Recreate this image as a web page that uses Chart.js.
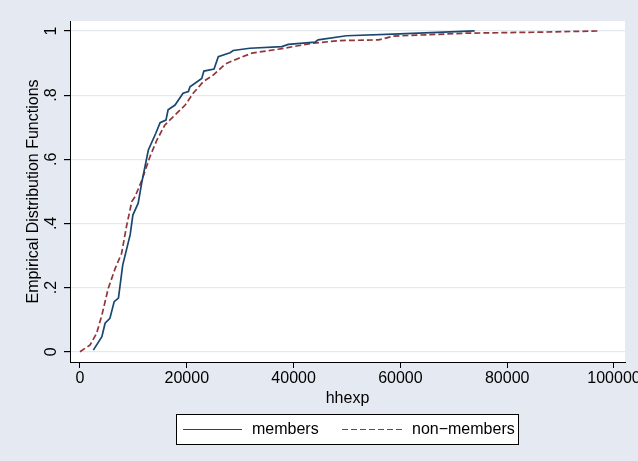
<!DOCTYPE html>
<html>
<head>
<meta charset="utf-8">
<script src="https://cdn.jsdelivr.net/npm/chart.js@4.4.1/dist/chart.umd.min.js"></script>
<style>
  html, body { margin: 0; padding: 0; background: #e5eaf2; }
  #wrap { width: 638px; height: 461px; }
</style>
</head>
<body>
<div id="wrap"><canvas id="ecdf" width="638" height="461"></canvas></div>
<script>
// values
var seriesNames = ["members", "non\u2212members"];

var membersX = [2500, 4100, 4700, 5600, 6400, 7200, 8000, 9400, 9900, 10900, 11600, 12800, 14200, 15000, 16100, 16500,
  17800, 19300, 20300, 20600, 22800, 23200, 25100, 25900, 28100, 28700, 31800, 37800, 39000, 44000, 44600, 49900, 59900, 73900];
var membersY = [0.005, 0.047, 0.089, 0.104, 0.156, 0.167, 0.27, 0.365, 0.426, 0.463, 0.53, 0.629, 0.681, 0.714, 0.722, 0.754,
  0.769, 0.806, 0.811, 0.826, 0.852, 0.875, 0.881, 0.92, 0.932, 0.939, 0.946, 0.951, 0.958, 0.965, 0.972, 0.985, 0.991, 1.0];

var nonMembersX = [0, 1900, 3100, 4100, 5300, 6600, 7800, 8700, 9700, 10300, 11600, 13100, 14400, 15900, 17800, 19700,
  21200, 23100, 25000, 27200, 29300, 32200, 37100, 43700, 48700, 55900, 58700, 72400, 84900, 97400];
var nonMembersY = [0, 0.021, 0.057, 0.114, 0.198, 0.26, 0.307, 0.39, 0.468, 0.483, 0.535, 0.608, 0.66, 0.707, 0.738, 0.769,
  0.806, 0.842, 0.863, 0.897, 0.912, 0.931, 0.943, 0.962, 0.97, 0.972, 0.984, 0.993, 0.996, 1.0];

var xTicks = [0, 20000, 40000, 60000, 80000, 100000];
var yTicks = [0, 0.2, 0.4, 0.6, 0.8, 1];
var yTickLabels = ["0", ".2", ".4", ".6", ".8", "1"];

var FONT = "'Liberation Sans', Arial, Helvetica, sans-serif";

function pts(xs, ys) {
  return xs.map(function (x, i) { return { x: x, y: ys[i] }; });
}

// white plot region
var plotBg = {
  id: "plotBg",
  beforeDraw: function (chart) {
    var a = chart.chartArea, ctx = chart.ctx;
    ctx.save();
    ctx.fillStyle = "#e5eaf2";
    ctx.fillRect(0, 0, chart.width, chart.height);
    ctx.fillStyle = "#ffffff";
    ctx.fillRect(a.left, a.top, a.right - a.left, a.bottom - a.top);
    ctx.restore();
  }
};

// stata-like boxed legend under the axis
var boxLegend = {
  id: "boxLegend",
  afterDraw: function (chart) {
    var ctx = chart.ctx;
    var ds = chart.data.datasets;
    ctx.save();
    ctx.fillStyle = "#ffffff";
    ctx.fillRect(176.5, 414.5, 342, 30);
    ctx.strokeStyle = "#000000";
    ctx.lineWidth = 1;
    ctx.strokeRect(176.5, 414.5, 342, 30);
    var slots = [{ x0: 183, x1: 242, tx: 252 }, { x0: 342, x1: 402, tx: 412 }];
    ds.forEach(function (d, i) {
      var s = slots[i];
      ctx.beginPath();
      ctx.setLineDash(d.borderDash || []);
      ctx.strokeStyle = d.borderColor;
      ctx.lineWidth = 1.2;
      ctx.moveTo(s.x0, 429.5);
      ctx.lineTo(s.x1, 429.5);
      ctx.stroke();
      ctx.setLineDash([]);
      ctx.fillStyle = "#000000";
      ctx.font = "16px " + FONT;
      ctx.textBaseline = "middle";
      ctx.textAlign = "left";
      ctx.fillText(d.label, s.tx, 430);
    });
    ctx.restore();
  }
};

new Chart("ecdf", {
  type: "line",
  data: {
    datasets: [{
      label: seriesNames[0],
      data: pts(membersX, membersY),
      borderColor: "#1a476f",
      borderWidth: 1.7,
      pointRadius: 0,
      tension: 0,
      fill: false
    }, {
      label: seriesNames[1],
      data: pts(nonMembersX, nonMembersY),
      borderColor: "#90353b",
      borderWidth: 1.7,
      borderDash: [6, 3],
      pointRadius: 0,
      tension: 0,
      fill: false
    }]
  },
  options: {
    responsive: false,
    animation: false,
    layout: { padding: { top: 21, right: 13, bottom: 53, left: 0 } },
    plugins: { legend: { display: false }, tooltip: { enabled: false } },
    scales: {
      x: {
        type: "linear",
        min: -1870,
        max: 102060,
        afterBuildTicks: function (s) { s.ticks = xTicks.map(function (v) { return { value: v }; }); },
        afterFit: function (s) { s.height = 46; s.paddingLeft = 0; s.paddingRight = 0; },
        ticks: {
          autoSkip: false, maxRotation: 0, minRotation: 0, padding: 1,
          color: "#000000", font: { family: FONT, size: 16 },
          callback: function (v) { return String(v); }
        },
        grid: { drawOnChartArea: false, drawTicks: true, tickLength: 6, tickColor: "#000000" },
        border: { display: true, color: "#000000", width: 1 },
        title: { display: true, text: "hhexp", color: "#000000", font: { family: FONT, size: 16 }, padding: { top: 0, bottom: 0 } }
      },
      y: {
        type: "linear",
        min: -0.032,
        max: 1.031,
        afterBuildTicks: function (s) { s.ticks = yTicks.map(function (v) { return { value: v }; }); },
        afterFit: function (s) { s.width = 70; s.paddingTop = 0; s.paddingBottom = 0; },
        ticks: {
          autoSkip: false, minRotation: 90, maxRotation: 90, padding: 6, crossAlign: "center",
          color: "#000000", font: { family: FONT, size: 16 },
          callback: function (v) { var i = yTicks.indexOf(v); return i >= 0 ? yTickLabels[i] : ""; }
        },
        grid: { drawOnChartArea: true, color: "#e3e9f1", lineWidth: 1.2, drawTicks: true, tickLength: 6, tickColor: "#000000" },
        border: { display: true, color: "#000000", width: 1 },
        title: { display: true, text: "Empirical Distribution Functions", color: "#000000", font: { family: FONT, size: 16 }, padding: { top: 24, bottom: 0 } }
      }
    }
  },
  plugins: [plotBg, boxLegend]
});
</script>
</body>
</html>
